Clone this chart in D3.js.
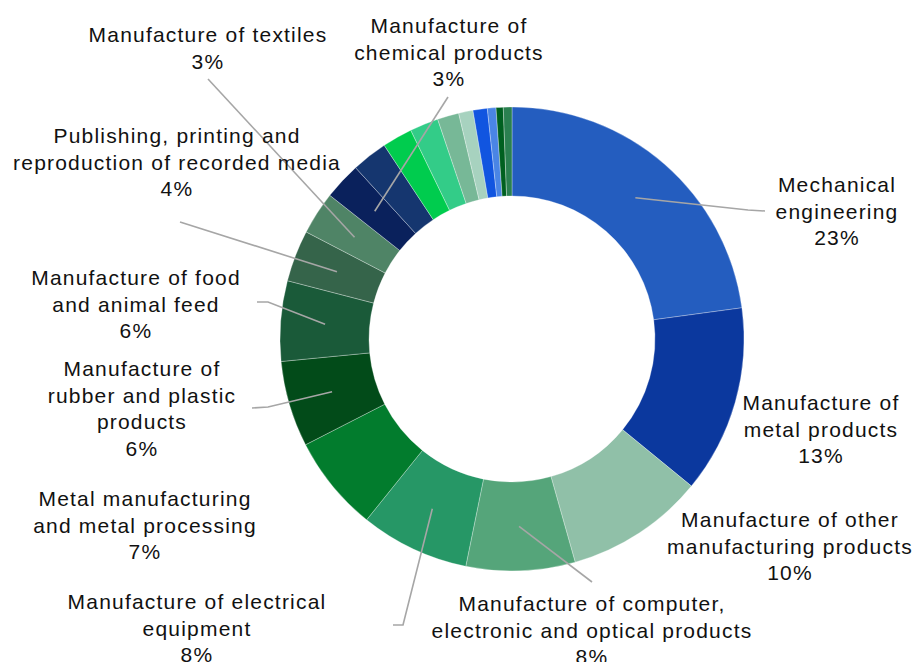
<!DOCTYPE html>
<html>
<head>
<meta charset="utf-8">
<script src="https://cdn.jsdelivr.net/npm/d3@7"></script>
<style>
  html, body { margin: 0; padding: 0; background: #fff; }
  svg { display: block; }
</style>
</head>
<body>
<svg id="chart" width="922" height="662"></svg>
<script>
// ---- data (clockwise from 12 o'clock) ----
const categories = [
  "Mechanical engineering",
  "Manufacture of metal products",
  "Manufacture of other manufacturing products",
  "Manufacture of computer, electronic and optical products",
  "Manufacture of electrical equipment",
  "Metal manufacturing and metal processing",
  "Manufacture of rubber and plastic products",
  "Manufacture of food and animal feed",
  "Publishing, printing and reproduction of recorded media",
  "Manufacture of textiles",
  "Manufacture of chemical products",
  "Other sector 12", "Other sector 13", "Other sector 14", "Other sector 15",
  "Other sector 16", "Other sector 17", "Other sector 18", "Other sector 19", "Other sector 20"
];
const shares = [22.9, 13.1, 9.7, 7.6, 7.6, 6.7, 6.0, 5.6, 3.6, 3.0, 2.6,
                2.5, 2.1, 2.0, 1.5, 1.0, 1.0, 0.6, 0.5, 0.6];
const colors = ["#245dbf", "#0b389e", "#90c0a8", "#55a57a", "#269766", "#027c2d",
                "#024b19", "#1a5a39", "#35644a", "#4f8466", "#0a215c", "#15366f",
                "#00cc4e", "#33cc88", "#77b897", "#a7d2bf", "#1155e0", "#4a85e5",
                "#006020", "#2a8050"];
// label text lines (the percent line is computed from the data)
const labelLines = [
  ["Mechanical", "engineering"],
  ["Manufacture of", "metal products"],
  ["Manufacture of other", "manufacturing products"],
  ["Manufacture of computer,", "electronic and optical products"],
  ["Manufacture of electrical", "equipment"],
  ["Metal manufacturing", "and metal processing"],
  ["Manufacture of", "rubber and plastic", "products"],
  ["Manufacture of food", "and animal feed"],
  ["Publishing, printing and", "reproduction of recorded media"],
  ["Manufacture of textiles"],
  ["Manufacture of", "chemical products"]
];

// ---- layout (not data) ----
const cx = 512, cy = 339, outerR = 232, innerR = 143;
const lineH = 26.5;
const labelLayout = [
  { x: 837, y: 192, leader: [[748, 210], [765, 211]] },
  { x: 821, y: 410, leader: null },
  { x: 790, y: 527, leader: null },
  { x: 592, y: 611, leader: [[592, 582]] },
  { x: 197, y: 609, leader: [[403, 625], [393, 625]] },
  { x: 145, y: 506, leader: null },
  { x: 142, y: 376, leader: [[268, 407], [252, 408]] },
  { x: 136, y: 285, leader: [[268, 302], [257, 302]] },
  { x: 177, y: 143, leader: [[180, 222]] },
  { x: 208, y: 42,  leader: [[208, 79]] },
  { x: 449, y: 33,  leader: [[448, 97]] }
];

const data = categories.map((c, i) => ({ name: c, value: shares[i], color: colors[i], idx: i }));
const total = d3.sum(shares);
const fmt = d3.format(".0%");

const svg = d3.select("#chart");
const g = svg.append("g").attr("transform", `translate(${cx},${cy})`);

const pie = d3.pie().sort(null).value(d => d.value).startAngle(0).endAngle(2 * Math.PI);
const arc = d3.arc().innerRadius(innerR).outerRadius(outerR);
const arcs = pie(data);

g.selectAll("path.slice")
  .data(arcs)
  .enter().append("path")
  .attr("class", "slice")
  .attr("d", arc)
  .attr("fill", d => d.data.color)
  .attr("stroke", "#ffffff")
  .attr("stroke-width", 0.5)
  .attr("stroke-opacity", 0.6);

// leader lines
const lineGen = d3.line();
arcs.forEach((a, i) => {
  if (i >= labelLayout.length) return;
  const L = labelLayout[i];
  if (!L.leader) return;
  const c = arc.centroid(a);
  const pts = [[c[0] + cx, c[1] + cy]].concat(L.leader);
  svg.append("path")
    .attr("d", lineGen(pts))
    .attr("fill", "none")
    .attr("stroke", "#a6a6a6")
    .attr("stroke-width", 1.6);
});

// labels
arcs.forEach((a, i) => {
  if (i >= labelLayout.length) return;
  const L = labelLayout[i];
  const lines = labelLines[i].concat([fmt(a.data.value / total)]);
  const t = svg.append("text")
    .attr("x", L.x).attr("y", L.y)
    .attr("text-anchor", "middle")
    .attr("font-family", "'Liberation Sans', Arial, sans-serif")
    .attr("font-size", 21)
    .attr("letter-spacing", "1.2px")
    .attr("fill", "#111");
  lines.forEach((ln, k) => {
    t.append("tspan").attr("x", L.x).attr("y", L.y + k * lineH).text(ln);
  });
});
</script>
</body>
</html>
